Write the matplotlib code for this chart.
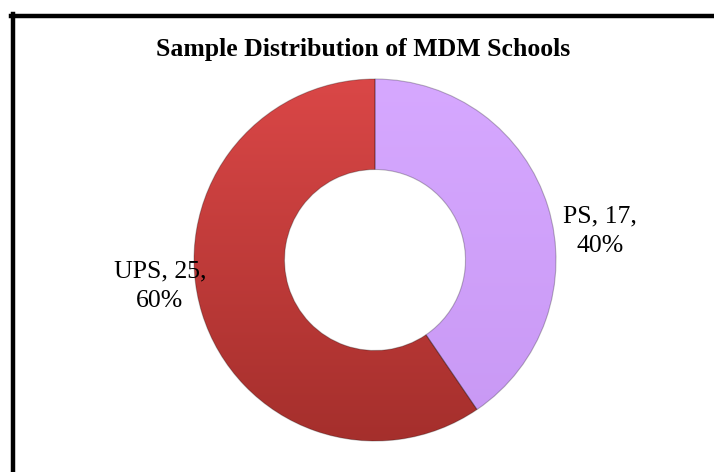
import numpy as np
import matplotlib.pyplot as plt
from matplotlib.lines import Line2D
from matplotlib.colors import LinearSegmentedColormap

# data
categories = ["PS", "UPS"]
counts = [17, 25]
percents = ["40%", "60%"]
colors_top = ["#D6A8FF", "#DA4747"]
colors_bottom = ["#C898F4", "#A52F2C"]

W, H = 714, 472
cx, cy, R = 375, 260, 181

fig = plt.figure(figsize=(W / 100, H / 100), dpi=100)
fig.patch.set_facecolor("white")
ax = fig.add_axes([(cx - R) / W, (H - cy - R) / H, 2 * R / W, 2 * R / H])

wedges, _ = ax.pie(counts, startangle=90, counterclock=False, radius=1,
                   colors=colors_top,
                   wedgeprops=dict(width=0.5, edgecolor="none"))

# vertical gradient clipped to each wedge
grad = np.linspace(1, 0, 256).reshape(-1, 1)
for w, ct, cb in zip(wedges, colors_top, colors_bottom):
    cmap = LinearSegmentedColormap.from_list("g", [cb, ct])
    im = ax.imshow(grad, extent=[-1, 1, -1, 1], cmap=cmap, aspect="auto",
                   zorder=w.get_zorder() + 0.1, origin="upper")
    im.set_clip_path(w)
    w.set_edgecolor((0, 0, 0, 0.25))
    w.set_linewidth(0.8)
    w.set_zorder(w.get_zorder() + 0.2)
    w.set_facecolor("none")

ax.set_xlim(-1, 1)
ax.set_ylim(-1, 1)
ax.axis("off")

# data labels, one text per line (baseline positions in data units)
label_pos = [(1.243, 0.21, 0.044), (-1.188, -0.094, -0.26)]
for cat, n, p, (x, y1, y2) in zip(categories, counts, percents, label_pos):
    ax.text(x, y1, f"{cat}, {n},", ha="center", va="baseline",
            fontsize=18.5, family="Liberation Serif")
    ax.text(x, y2, p, ha="center", va="baseline",
            fontsize=18.5, family="Liberation Serif")

fig.text(363.5 / W, 1 - 56 / H, "Sample Distribution of MDM Schools",
         ha="center", va="baseline", fontsize=18.5, fontweight="bold",
         family="Liberation Serif")

# chart border (left and top visible)
fig.add_artist(Line2D([12.5 / W, 12.5 / W], [0, 1 - 14 / H], color="black",
                      linewidth=3.2, transform=fig.transFigure))
fig.add_artist(Line2D([11 / W, 1], [1 - 16 / H, 1 - 16 / H], color="black",
                      linewidth=3.2, transform=fig.transFigure))

fig.savefig("out.png", dpi=100)
